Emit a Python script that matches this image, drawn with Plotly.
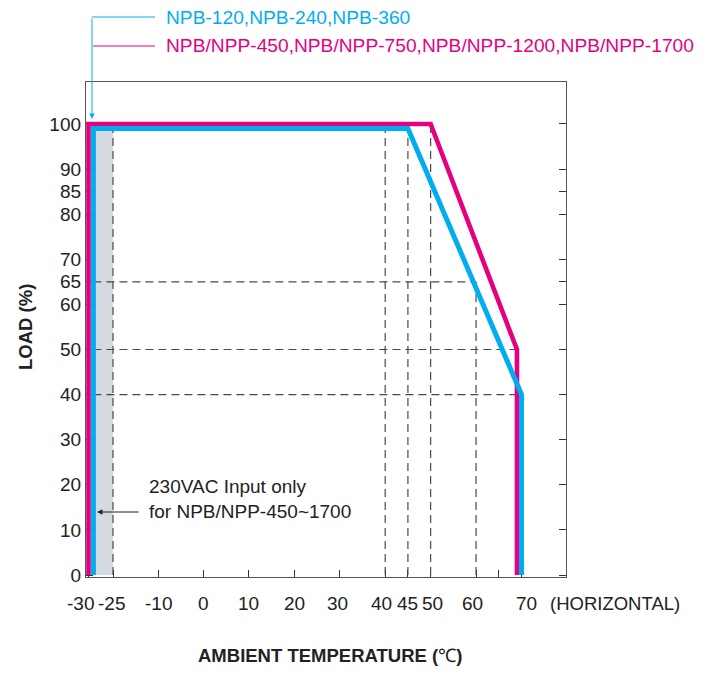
import numpy as np
import plotly.graph_objects as go

# ---------------- data ----------------
magenta_temp = [-30, -30, 50, 69, 69]
magenta_load = [0, 100, 100, 50, 0]
cyan_temp = [-29, -29, 45, 70, 70]
cyan_load = [0, 99, 99, 40, 0]

shade_temp = [-29, -25]
shade_top = 99

vline_temp = [-25, 40, 45, 50, 60]
vline_top = [99, 99, 99, 100, 65]
hline_load = [65, 50, 40]
hline_end = [60, 69, 70]

x_tick_vals = [-30, -25, -10, 0, 10, 20, 30, 40, 45, 50, 60, 65, 70]
x_label_vals = [-30, -25, -10, 0, 10, 20, 30, 40, 45, 50, 60, 70]
x_label_text = ["-30", "-25", "-10", "0", "10", "20", "30", "40", "45", "50", "60", "70"]
y_tick_vals = [0, 10, 20, 30, 40, 50, 60, 65, 70, 80, 85, 90, 100]

legend_cyan = "NPB-120,NPB-240,NPB-360"
legend_magenta = "NPB/NPP-450,NPB/NPP-750,NPB/NPP-1200,NPB/NPP-1700"
note_text = "230VAC Input only<br>for NPB/NPP-450~1700"

# ---------------- layout / scale (style, not data) ----------------
# non-uniform temperature scale of the original drawing
SCALE_T = [-30, -25, -10, 70, 80]
SCALE_U = [88.5, 113, 158, 521.5, 566.9]
# small horizontal nudges of the tick labels, in px
LABEL_SHIFT = [-8, -2, 0, 0, 0, 0, -2, -4, 0, 2, -4, 4.5]


def tx(t):
    return np.interp(np.asarray(t, dtype=float), SCALE_T, SCALE_U)


OFF = 8  # page body margin
W, H = 705 - OFF, 674 - 2 * OFF
PL, PR, PT, PB = 86, 566, 82, 577  # plot frame in window pixels
Y0, Y1 = -0.44, 109.3

MAGENTA = "#e4007f"
CYAN = "#00aeef"
INK = "#222222"
FONT = "Liberation Sans, Arial, sans-serif"


def px(x):
    return (x - PL) / (PR - PL)


def py(y):
    return (PB - y) / (PB - PT)


fig = go.Figure()

# shaded region
fig.add_trace(go.Scatter(
    x=tx([shade_temp[0], shade_temp[1], shade_temp[1], shade_temp[0]]),
    y=[0, 0, shade_top, shade_top], fill="toself", fillcolor="#d4dae0",
    line=dict(width=0), mode="lines", hoverinfo="skip", showlegend=False))

DASH = dict(color="#4a4a4a", width=1.2, dash="8px,5px")
for t, top in zip(vline_temp, vline_top):
    fig.add_trace(go.Scatter(x=tx([t, t]), y=[0, top], mode="lines", line=DASH,
                             hoverinfo="skip", showlegend=False))
for ld, end in zip(hline_load, hline_end):
    fig.add_trace(go.Scatter(x=tx([-29, end]), y=[ld, ld], mode="lines", line=DASH,
                             hoverinfo="skip", showlegend=False))

fig.add_trace(go.Scatter(x=tx(magenta_temp), y=magenta_load, mode="lines",
                         line=dict(color=MAGENTA, width=4.6), showlegend=False))
fig.add_trace(go.Scatter(x=tx(cyan_temp), y=cyan_load, mode="lines",
                         line=dict(color=CYAN, width=5), showlegend=False))

fig.update_xaxes(range=[PL, PR], tickmode="array", tickvals=tx(x_tick_vals),
                 showticklabels=False, ticks="inside", ticklen=7, tickcolor="#333",
                 showline=True, linecolor="#555", linewidth=1.3, mirror=True,
                 showgrid=False, zeroline=False, layer="below traces")
fig.update_yaxes(range=[Y0, Y1], tickmode="array", tickvals=y_tick_vals,
                 ticks="inside", ticklen=7, tickcolor="#333",
                 showline=True, linecolor="#555", linewidth=1.3, mirror="ticks",
                 showgrid=False, zeroline=False, layer="below traces",
                 tickfont=dict(family=FONT, size=19, color=INK))


def note(xw, yw, text, size, color=INK, xanchor="center", angle=0, align="center"):
    return dict(x=px(xw), y=py(yw), xref="paper", yref="paper", text=text,
                showarrow=False, xanchor=xanchor, yanchor="middle", align=align,
                textangle=angle, font=dict(family=FONT, size=size, color=color))


anns = []
# x tick labels
for v, txt, sh in zip(x_label_vals, x_label_text, LABEL_SHIFT):
    anns.append(note(float(tx(v)) + sh, 603, txt, 19))
anns.append(note(615, 603, "(HORIZONTAL)", 18.5))
# legend texts
anns.append(note(164, 17, legend_cyan, 19.2, CYAN, xanchor="left"))
anns.append(note(164, 46, legend_magenta, 19.2, MAGENTA, xanchor="left"))
# cyan arrow down
anns.append(dict(x=px(92), y=py(119), xref="paper", yref="paper", text="",
                 showarrow=True, ax=0, ay=-102, arrowhead=2, arrowsize=1.1,
                 arrowwidth=1, arrowcolor=CYAN))
# note
anns.append(note(147, 499, note_text, 19, xanchor="left", align="left"))
anns.append(dict(x=px(97), y=py(512), xref="paper", yref="paper", text="",
                 showarrow=True, ax=43, ay=0, arrowhead=2, arrowsize=1.1,
                 arrowwidth=1, arrowcolor=INK))
# axis titles
anns.append(note(330, 655, "<b>AMBIENT TEMPERATURE (</b>℃<b>)</b>", 18.5))
anns.append(note(25, 327, "<b>LOAD (%)</b>", 18.5, angle=-90))

shapes = [
    dict(type="line", xref="paper", yref="paper", x0=px(92), x1=px(155), y0=py(17), y1=py(17),
         line=dict(color=CYAN, width=1)),
    dict(type="line", xref="paper", yref="paper", x0=px(93), x1=px(155), y0=py(46), y1=py(46),
         line=dict(color=MAGENTA, width=1)),
]

fig.update_layout(width=W, height=H,
                  margin=dict(l=PL - OFF, r=W - (PR - OFF), t=PT - OFF, b=H - (PB - OFF)),
                  plot_bgcolor="white", paper_bgcolor="white",
                  annotations=anns, shapes=shapes, showlegend=False)

fig.write_html("out.html")
